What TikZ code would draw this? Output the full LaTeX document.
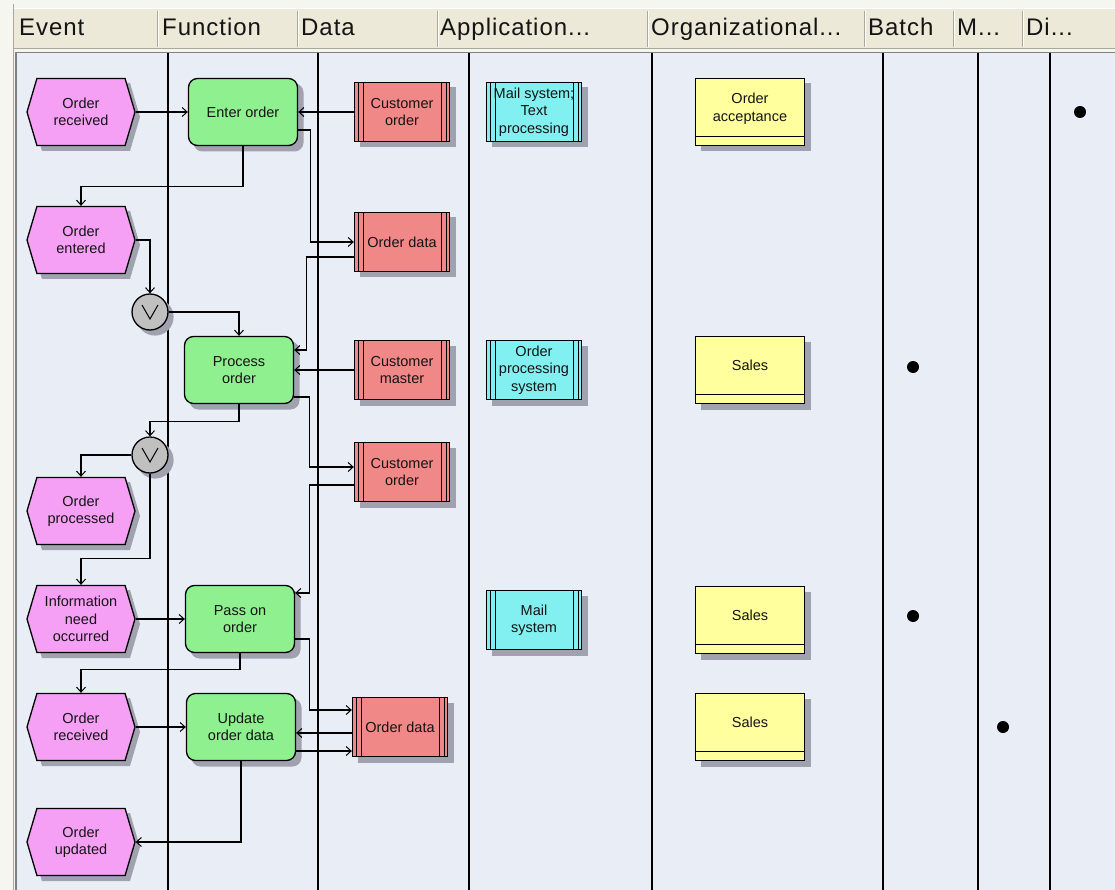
\documentclass[tikz,border=0pt]{standalone}
\usepackage{fontspec}
\setmainfont{Liberation Sans}
\newfontfamily\headfont{Liberation Sans}[LetterSpace=4]
\usetikzlibrary{shapes.symbols,arrows.meta}

\definecolor{pagebg}{RGB}{246,246,241}
\definecolor{bodybg}{RGB}{233,238,246}
\definecolor{headbg}{RGB}{236,233,216}
\definecolor{headline}{RGB}{172,168,153}
\definecolor{evfill}{RGB}{245,160,245}
\definecolor{fnfill}{RGB}{142,240,142}
\definecolor{dafill}{RGB}{240,136,136}
\definecolor{apfill}{RGB}{130,240,240}
\definecolor{orfill}{RGB}{255,255,158}
\definecolor{opfill}{RGB}{192,192,192}
\definecolor{castgrey}{RGB}{160,162,176}
\definecolor{ink}{RGB}{20,20,20}

\tikzset{
  base/.style={draw=black, line width=1.3pt, align=center, inner sep=0pt,
    text=ink, font=\fontsize{14.5}{17.5}\selectfont},
  event/.style={base, signal, signal to=east and west, signal pointer angle=147,
    fill=evfill, minimum width=108pt, minimum height=67pt},
  func/.style={base, rectangle, rounded corners=9pt, fill=fnfill,
    minimum width=109pt, minimum height=67pt},
  barbox/.style={base, rectangle, minimum width=95pt, minimum height=59pt,
    path picture={
      \foreach \dx in {3.5pt,8.5pt}{
        \draw[line width=1pt] ([xshift=\dx]path picture bounding box.north west)
          -- ([xshift=\dx]path picture bounding box.south west);
        \draw[line width=1pt] ([xshift=-\dx]path picture bounding box.north east)
          -- ([xshift=-\dx]path picture bounding box.south east);}}},
  datum/.style={barbox, fill=dafill},
  appsys/.style={barbox, fill=apfill},
  orgunit/.style={base, rectangle, fill=orfill, minimum width=109pt, minimum height=67pt,
    text depth=9pt,
    path picture={\draw[line width=1pt]
      ([yshift=9pt]path picture bounding box.south west)
      -- ([yshift=9pt]path picture bounding box.south east);}},
  oper/.style={base, circle, fill=opfill, minimum size=36pt,
    path picture={\draw[line width=1pt]
      ([shift={(-8pt,7pt)}]path picture bounding box.center)
      -- ([yshift=-7pt]path picture bounding box.center)
      -- ([shift={(8pt,7pt)}]path picture bounding box.center);}},
  dot/.style={circle, fill=black, inner sep=0pt, minimum size=12pt},
  lane/.style={line width=1.1pt, black},
  conn/.style={line width=1.2pt, black,
    -{Straight Barb[length=5pt, width=9pt, line width=1pt]}},
  head/.style={anchor=base west, inner sep=0pt, text=ink,
    font=\headfont\fontsize{24}{28}\selectfont},
}

\begin{document}
\begin{tikzpicture}[x=1pt, y=-1pt]
\useasboundingbox (0,0) rectangle (1115,890);

% page, header band and swimlane area
\fill[pagebg] (0,0) rectangle (1115,890);
\draw[headline] (13.5,4) -- (13.5,890);
\fill[headbg] (14,8) rectangle (1115,49);
\draw[white, line width=1pt] (14,8.5) -- (1115,8.5);
\draw[headline, line width=1pt] (14,48.5) -- (1115,48.5);
\foreach \hx in {157,297,437,647,864,953,1022}{
  \draw[headline, line width=1pt] (\hx,11) -- (\hx,47);
  \draw[white, line width=1pt] (\hx+1,11) -- (\hx+1,47);
}
\fill[bodybg] (15,52) rectangle (1115,890);
\draw[gray, line width=1pt] (15,52.5) -- (1115,52.5);
\draw[gray, line width=1.4pt] (16,52) -- (16,890);

% lane separators
\foreach \lx in {168,318,469,652,883,978,1050}{
  \draw[lane] (\lx,53) -- (\lx,890);
}

% drop shadows, 5 units down and to the right of each object
\foreach \cx/\cy in {81/112,81/240,81/511,81/619,81/727,81/842}{
  \path[fill=castgrey] (\cx-49,\cy+5) -- ++(10,-34) -- ++(88,0)
    -- ++(10,34) -- ++(-10,34) -- ++(-88,0) -- cycle;
}
\foreach \cx/\cy in {243/112,239/370,240/619,241/727}{
  \path[fill=castgrey, rounded corners=9pt] (\cx-49.5,\cy-28.5) rectangle ++(110,68);
}
\foreach \cx/\cy in {402/112,402/242,402/370,402/472,400/727,534/112,534/370,534/620}{
  \path[fill=castgrey] (\cx-42.5,\cy-24.5) rectangle ++(96,60);
}
\foreach \cx/\cy in {750/112,750/370,750/620,750/727}{
  \path[fill=castgrey] (\cx-49.5,\cy-28.5) rectangle ++(110,68);
}
\foreach \cx/\cy in {150/312,150/455}{
  \path[fill=castgrey] (\cx+5,\cy+5) circle (18.6pt);
}

% column titles
\node[head] (hEvent) at (19,36) {Event};
\node[head] (hFunc)  at (162,36) {Function};
\node[head] (hData)  at (301,36) {Data};
\node[head] (hApp)   at (440,36) {Application...};
\node[head] (hOrg)   at (651,36) {Organizational...};
\node[head] (hBatch) at (868,36) {Batch};
\node[head] (hM)     at (957,36) {M...};
\node[head] (hDi)    at (1026,36) {Di...};

% events
\node[event] (ev1) at (81,112) {Order\\received};
\node[event] (ev2) at (81,240) {Order\\entered};
\node[event] (ev3) at (81,511) {Order\\processed};
\node[event] (ev4) at (81,619) {Information\\need\\occurred};
\node[event] (ev5) at (81,727) {Order\\received};
\node[event] (ev6) at (81,842) {Order\\updated};

% functions
\node[func] (fn1) at (243,112) {Enter order};
\node[func] (fn2) at (239,370) {Process\\order};
\node[func] (fn3) at (240,619) {Pass on\\order};
\node[func] (fn4) at (241,727) {Update\\order data};

% rule operators
\node[oper] (op1) at (150,312) {};
\node[oper] (op2) at (150,455) {};

% data objects
\node[datum] (da1) at (402,112) {Customer\\order};
\node[datum] (da2) at (402,242) {Order data};
\node[datum] (da3) at (402,370) {Customer\\master};
\node[datum] (da4) at (402,472) {Customer\\order};
\node[datum] (da5) at (400,727) {Order data};

% application systems
\node[appsys] (ap1) at (534,112) {Mail system;\\Text\\processing};
\node[appsys] (ap2) at (534,370) {Order\\processing\\system};
\node[appsys] (ap3) at (534,620) {Mail\\system};

% organizational units
\node[orgunit] (or1) at (750,112) {Order\\acceptance};
\node[orgunit] (or2) at (750,370) {Sales};
\node[orgunit] (or3) at (750,620) {Sales};
\node[orgunit] (or4) at (750,727) {Sales};

% processing type marks
\node[dot] (dDi)  at (1080,112) {};
\node[dot] (dB1)  at (913,367) {};
\node[dot] (dB2)  at (913,616) {};
\node[dot] (dM)   at (1003,727) {};

% control flow
\draw[conn] (ev1.east) -- (fn1.west);
\draw[conn] (fn1.south) -- ++(0,40) -| (ev2.north);
\draw[conn] (ev2.east) -| (op1.north);
\draw[conn] (op1.east) -| (fn2.north);
\draw[conn] (fn2.south) -- ++(0,17) -| (op2.north);
\draw[conn] (op2.west) -| (ev3.north);
\draw[conn] (op2.south) -- ++(0,85) -| (ev4.north);
\draw[conn] (ev4.east) -- (fn3.west);
\draw[conn] (fn3.south) -- ++(0,16) -| (ev5.north);
\draw[conn] (ev5.east) -- (fn4.west);
\draw[conn] (fn4.south) |- (ev6.east);

% data flow
\draw[conn] (da1.west) -- (fn1.east);
\draw[conn] ([yshift=-18pt]fn1.east) -- ++(12,0) |- (da2.west);
\draw[conn] ([yshift=-15pt]da2.west) -- ++(-47,0) |- ([yshift=20pt]fn2.east);
\draw[conn] (da3.west) -- (fn2.east);
\draw[conn] ([yshift=-27pt]fn2.east) -- ++(15,0) |- ([yshift=5pt]da4.west);
\draw[conn] ([yshift=-13pt]da4.west) -- ++(-44,0) |- ([yshift=26pt]fn3.east);
\draw[conn] ([yshift=-20pt]fn3.east) -- ++(14,0) |- ([yshift=17pt]da5.west);
\draw[conn] ([yshift=-6pt]da5.west) -- ([yshift=-6pt]fn4.east);
\draw[conn] ([yshift=-24pt]fn4.east) -- ([yshift=-24pt]da5.west);
\end{tikzpicture}
\end{document}
